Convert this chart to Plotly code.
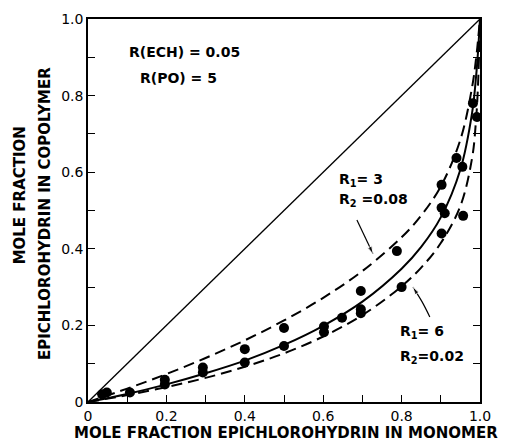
import plotly.graph_objects as go

# Experimental points (mole fraction ECH in monomer, in copolymer)
exp_x = [0.036, 0.048, 0.107, 0.196, 0.196, 0.293, 0.293, 0.40, 0.40, 0.50, 0.50,
         0.602, 0.602, 0.648, 0.696, 0.696, 0.696, 0.788, 0.80, 0.902, 0.902, 0.91,
         0.902, 0.94, 0.955, 0.957, 0.982, 0.992]
exp_y = [0.020, 0.025, 0.025, 0.058, 0.046, 0.090, 0.077, 0.138, 0.103, 0.193, 0.146,
         0.197, 0.182, 0.220, 0.290, 0.242, 0.232, 0.394, 0.300, 0.567, 0.507, 0.493,
         0.440, 0.637, 0.614, 0.486, 0.780, 0.744]

# Curves
curve_x = [0.0, 0.1, 0.2, 0.3, 0.4, 0.5, 0.6, 0.7, 0.8, 0.85, 0.9, 0.95, 0.98, 0.99, 0.995, 1.0]
solid_y = [0.0, 0.021, 0.046, 0.075, 0.108, 0.149, 0.199, 0.262, 0.348, 0.405, 0.482, 0.607, 0.756, 0.850, 0.915, 1.0]
upper_y = [0.0, 0.035, 0.073, 0.115, 0.161, 0.213, 0.272, 0.342, 0.430, 0.487, 0.563, 0.685, 0.823, 0.897, 0.945, 1.0]
lower_y = [0.0, 0.018, 0.039, 0.063, 0.092, 0.127, 0.171, 0.227, 0.302, 0.351, 0.415, 0.512, 0.638, 0.738, 0.829, 1.0]

diag = [0.0, 1.0]

# Pointer arrows (tail, head)
arrow1_x = [0.686, 0.727]
arrow1_y = [0.475, 0.387]
arrow2_x = [0.872, 0.852, 0.829]
arrow2_y = [0.222, 0.262, 0.300]

tick_vals = [0.0, 0.2, 0.4, 0.6, 0.8, 1.0]
tick_text = ["0", "0.2", "0.4", "0.6", "0.8", "1.0"]

FONT = "DejaVu Sans"

fig = go.Figure()
fig.add_trace(go.Scatter(x=diag, y=diag, mode="lines",
                         line=dict(color="black", width=1.3), showlegend=False))
fig.add_trace(go.Scatter(x=curve_x, y=upper_y, mode="lines", line_shape="spline",
                         line=dict(color="black", width=2, dash="11px,6px"), showlegend=False))
fig.add_trace(go.Scatter(x=curve_x, y=solid_y, mode="lines", line_shape="spline",
                         line=dict(color="black", width=2), showlegend=False))
fig.add_trace(go.Scatter(x=curve_x, y=lower_y, mode="lines", line_shape="spline",
                         line=dict(color="black", width=2, dash="11px,6px"), showlegend=False))
fig.add_trace(go.Scatter(x=exp_x, y=exp_y, mode="markers",
                         marker=dict(color="black", size=10), showlegend=False))

for ax_, ay_ in ((arrow1_x, arrow1_y), (arrow2_x, arrow2_y)):
    n = len(ax_)
    fig.add_trace(go.Scatter(x=ax_, y=ay_, mode="lines+markers", line_shape="spline",
                             line=dict(color="black", width=1.2),
                             marker=dict(symbol="arrow", angleref="previous", color="black",
                                         size=[0] * (n - 1) + [8]),
                             showlegend=False, hoverinfo="skip"))

tf = dict(family=FONT, size=14, color="black")
fig.add_annotation(x=0.245, y=0.914, text="<b>R(ECH) = 0.05</b>", showarrow=False, font=tf)
fig.add_annotation(x=0.23, y=0.846, text="<b>R(PO) = 5</b>", showarrow=False, font=tf)
fig.add_annotation(x=0.635, y=0.58, text="<b>R<sub>1</sub>= 3</b>", showarrow=False,
                   font=tf, xanchor="left")
fig.add_annotation(x=0.635, y=0.528, text="<b>R<sub>2</sub> =0.08</b>", showarrow=False,
                   font=tf, xanchor="left")
fig.add_annotation(x=0.79, y=0.183, text="<b>R<sub>1</sub>= 6</b>", showarrow=False,
                   font=tf, xanchor="left")
fig.add_annotation(x=0.79, y=0.117, text="<b>R<sub>2</sub>=0.02</b>", showarrow=False,
                   font=tf, xanchor="left")

# axis titles
atf = dict(family=FONT, size=15, color="black")
fig.add_annotation(xref="paper", yref="paper", x=0.505, y=-0.081,
                   text="<b>MOLE FRACTION EPICHLOROHYDRIN IN MONOMER</b>",
                   showarrow=False, font=atf, xanchor="center", yanchor="middle")
fig.add_annotation(xref="paper", yref="paper", x=-0.173, y=0.54,
                   text="<b>MOLE FRACTION</b>", textangle=-90,
                   showarrow=False, font=atf, xanchor="center", yanchor="middle")
fig.add_annotation(xref="paper", yref="paper", x=-0.11, y=0.493,
                   text="<b>EPICHLOROHYDRIN IN COPOLYMER</b>", textangle=-90,
                   showarrow=False, font=atf, xanchor="center", yanchor="middle")

axis_common = dict(range=[0, 1], tickmode="array", tickvals=tick_vals, ticktext=tick_text,
                   ticks="inside", ticklen=7, tickwidth=1.2, tickcolor="black",
                   minor=dict(tickmode="linear", tick0=0, dtick=0.1, ticks="inside",
                              ticklen=7, tickwidth=1.2, tickcolor="black"),
                   showline=True, linecolor="black", linewidth=1.5, showgrid=False,
                   zeroline=False, tickfont=dict(family=FONT, size=14, color="black"),
                   tickprefix="<b>", ticksuffix="</b>")

fig.update_xaxes(**axis_common, mirror=True)
fig.update_yaxes(**axis_common, mirror="ticks")

fig.update_layout(width=509, height=448, margin=dict(l=88, r=29, t=19, b=46),
                  plot_bgcolor="white", paper_bgcolor="white")

fig.write_html("out.html")
